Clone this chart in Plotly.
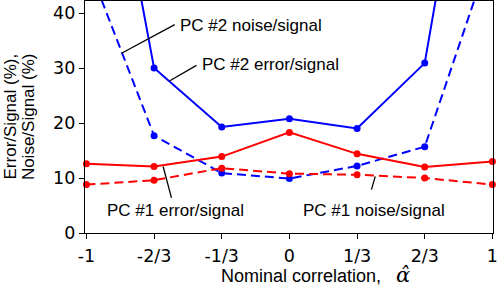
import plotly.graph_objects as go

# ---- data ----
alpha_vals = [-1, -2/3, -1/3, 0, 1/3, 2/3, 1]
tick_labels = ["-1", "-2/3", "-1/3", "0", "1/3", "2/3", "1"]
pc2_error = [96.0, 30.0, 19.3, 20.8, 19.0, 30.9, 102.0]
pc2_noise = [49.5, 17.7, 10.9, 9.9, 12.2, 15.7, 52.0]
pc1_error = [12.6, 12.1, 13.9, 18.3, 14.4, 12.0, 13.0]
pc1_noise = [8.8, 9.6, 11.8, 10.8, 10.6, 10.0, 8.8]
y_ticks = [0, 10, 20, 30, 40]

BLUE = "#0000ff"
RED = "#ff0000"
DASH = "9px,5px"

fig = go.Figure()

def add(y, color, dash, clip):
    fig.add_trace(go.Scatter(
        x=alpha_vals, y=y, mode="lines+markers",
        line=dict(color=color, width=2, dash=dash),
        marker=dict(color=color, size=7),
        cliponaxis=clip, showlegend=False, hoverinfo="skip"))

add(pc2_error, BLUE, "solid", True)
add(pc2_noise, BLUE, DASH, True)
add(pc1_error, RED, "solid", False)
add(pc1_noise, RED, DASH, False)

LABEL_FONT = dict(family="Liberation Sans, Arial, sans-serif", size=17, color="black")

# leader lines (label -> curve)
leaders = [
    (-0.827, 32.7, -0.565, 37.9),
    (-0.589, 27.7, -0.458, 30.5),
    (-0.622, 12.1, -0.581, 6.4),
    (0.423, 10.3, 0.404, 7.9),
]
for x0, y0, x1, y1 in leaders:
    fig.add_shape(type="line", xref="x", yref="y", x0=x0, y0=y0, x1=x1, y1=y1,
                  line=dict(color="black", width=1.3), layer="above")

labels = [
    ("PC #2 noise/signal", -0.548, 37.7, "left"),
    ("PC #2 error/signal", -0.440, 30.6, "left"),
    ("PC #1 error/signal", -0.559, 4.1, "center"),
    ("PC #1 noise/signal", 0.417, 4.1, "center"),
]
for txt, x, y, anc in labels:
    fig.add_annotation(text=txt, x=x, y=y, xref="x", yref="y", showarrow=False,
                       xanchor=anc, yanchor="middle", font=LABEL_FONT)

# axis titles
fig.add_annotation(text="Error/Signal (%),", xref="paper", yref="paper",
                   x=-0.182, y=0.221, xanchor="center", yanchor="bottom",
                   textangle=-90, showarrow=False, font=LABEL_FONT)
fig.add_annotation(text="Noise/Signal (%)", xref="paper", yref="paper",
                   x=-0.140, y=0.221, xanchor="center", yanchor="bottom",
                   textangle=-90, showarrow=False, font=LABEL_FONT)
fig.add_annotation(text="Nominal correlation,   <span style='font-family:DejaVu Serif;font-size:21px'><i>\u03b1\u0302</i></span>",
                   xref="paper", yref="paper", x=0.565, y=-0.183,
                   xanchor="center", yanchor="middle", showarrow=False,
                   font=dict(family="Liberation Sans, Arial, sans-serif", size=18, color="black"))

TICK_FONT = dict(family="DejaVu Sans, sans-serif", size=17.5, color="black")

fig.update_xaxes(range=[-1.007, 1.003], tickvals=alpha_vals, ticktext=tick_labels,
                 ticks="outside", ticklen=5, tickwidth=1.3, tickcolor="black",
                 showline=True, linecolor="black", linewidth=1.3, mirror=True,
                 showgrid=False, zeroline=False, tickfont=TICK_FONT, automargin=False,
                 ticklabeloverflow="allow", ticklabelstandoff=2)
fig.update_yaxes(range=[0, 42.2], tickvals=y_ticks,
                 ticks="outside", ticklen=5, tickwidth=1.3, tickcolor="black",
                 showline=True, linecolor="black", linewidth=1.3, mirror=True,
                 showgrid=False, zeroline=False, tickfont=TICK_FONT, automargin=False,
                 ticklabeloverflow="allow")

fig.update_layout(width=498, height=286, margin=dict(l=85, r=5, t=1, b=53, autoexpand=False),
                  plot_bgcolor="white", paper_bgcolor="white")

fig.write_html("out.html", config={"displayModeBar": False},
               post_script="document.body.style.margin='0';document.body.style.overflow='hidden';")
